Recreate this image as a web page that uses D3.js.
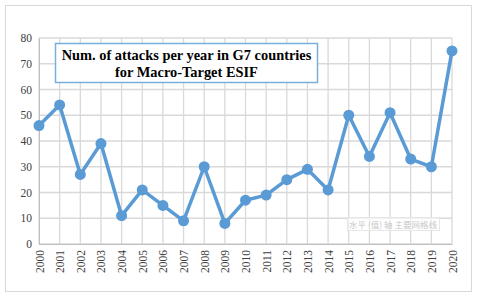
<!DOCTYPE html>
<html><head><meta charset="utf-8">
<script src="https://cdn.jsdelivr.net/npm/d3@7"></script>
<style>body{margin:0;background:#fff}svg{display:block}</style>
</head><body>
<svg id="c" width="480" height="296"></svg>
<script>
const years = ["2000","2001","2002","2003","2004","2005","2006","2007","2008","2009","2010","2011","2012","2013","2014","2015","2016","2017","2018","2019","2020"];
const attacks = [46,54,27,39,11,21,15,9,30,8,17,19,25,29,21,50,34,51,33,30,75];
const yTicks = [0,10,20,30,40,50,60,70,80];
const titleLines = ["Num. of attacks per year in G7 countries","for Macro-Target ESIF"];
const watermark = "水平 (值) 轴 主要网格线";

const svg = d3.select("#c");
const m = {l:39, t:38, r:452, b:244};
svg.append("rect").attr("x",5.5).attr("y",5.5).attr("width",466).attr("height",286)
  .attr("fill","#fff").attr("stroke","#d9d9d9");

const x = d3.scalePoint().domain(years).range([m.l,m.r]);
const y = d3.scaleLinear().domain([0,80]).range([m.b,m.t]);

// gridlines
const g = svg.append("g");
g.selectAll(".hg").data(yTicks).join("line")
  .attr("x1",m.l).attr("x2",m.r).attr("y1",d=>y(d)).attr("y2",d=>y(d))
  .attr("stroke","#d9d9d9").attr("stroke-width",1.3);
g.selectAll(".vg").data(years).join("line")
  .attr("x1",d=>x(d)).attr("x2",d=>x(d)).attr("y1",m.t).attr("y2",m.b)
  .attr("stroke","#d9d9d9").attr("stroke-width",1.3);

// axes
const yAxis = svg.append("g").attr("transform",`translate(${m.l},0)`)
  .call(d3.axisLeft(y).tickValues(yTicks).tickSize(0).tickPadding(7));
yAxis.select(".domain").attr("stroke","#bfbfbf");
yAxis.selectAll("text").attr("font-family","Liberation Serif, Times New Roman, serif")
  .attr("font-size",11.5).attr("fill","#404040");

const xAxis = svg.append("g").attr("transform",`translate(0,${m.b})`)
  .call(d3.axisBottom(x).tickSize(0));
xAxis.select(".domain").attr("stroke","#bfbfbf");
xAxis.selectAll("text").attr("font-family","Liberation Serif, Times New Roman, serif")
  .attr("font-size",11.5).attr("fill","#404040")
  .attr("transform","rotate(-90)").attr("text-anchor","end")
  .attr("x",-6).attr("y",0).attr("dy","0.35em");

// line
const line = d3.line().x((d,i)=>x(years[i])).y(d=>y(d));
svg.append("path").datum(attacks).attr("d",line).attr("fill","none")
  .attr("stroke","#5b9bd5").attr("stroke-width",3.5).attr("stroke-linejoin","round");
svg.selectAll(".pt").data(attacks).join("circle")
  .attr("cx",(d,i)=>x(years[i])).attr("cy",d=>y(d)).attr("r",5.5).attr("fill","#5b9bd5");

// watermark tooltip
svg.append("rect").attr("x",347.5).attr("y",217.5).attr("width",92).attr("height",13)
  .attr("fill","#fff").attr("fill-opacity",0.6).attr("stroke","#e6e6e6");
svg.append("text").attr("x",393).attr("y",227.5).attr("text-anchor","middle")
  .attr("font-family","Noto Sans CJK SC, sans-serif").attr("font-size",8.5)
  .attr("fill","#c8c8c8").text(watermark);

// title box
svg.append("rect").attr("x",55.5).attr("y",43.5).attr("width",262).attr("height",39)
  .attr("fill","#fff").attr("stroke","#7aaedc").attr("stroke-width",1.5);
svg.selectAll(".tt").data(titleLines).join("text")
  .attr("x",186.5).attr("y",(d,i)=>60+i*17).attr("text-anchor","middle")
  .attr("font-family","Liberation Serif, Times New Roman, serif").attr("font-weight","bold")
  .attr("font-size",14.4).attr("fill","#000").text(d=>d);
</script>
</body></html>
